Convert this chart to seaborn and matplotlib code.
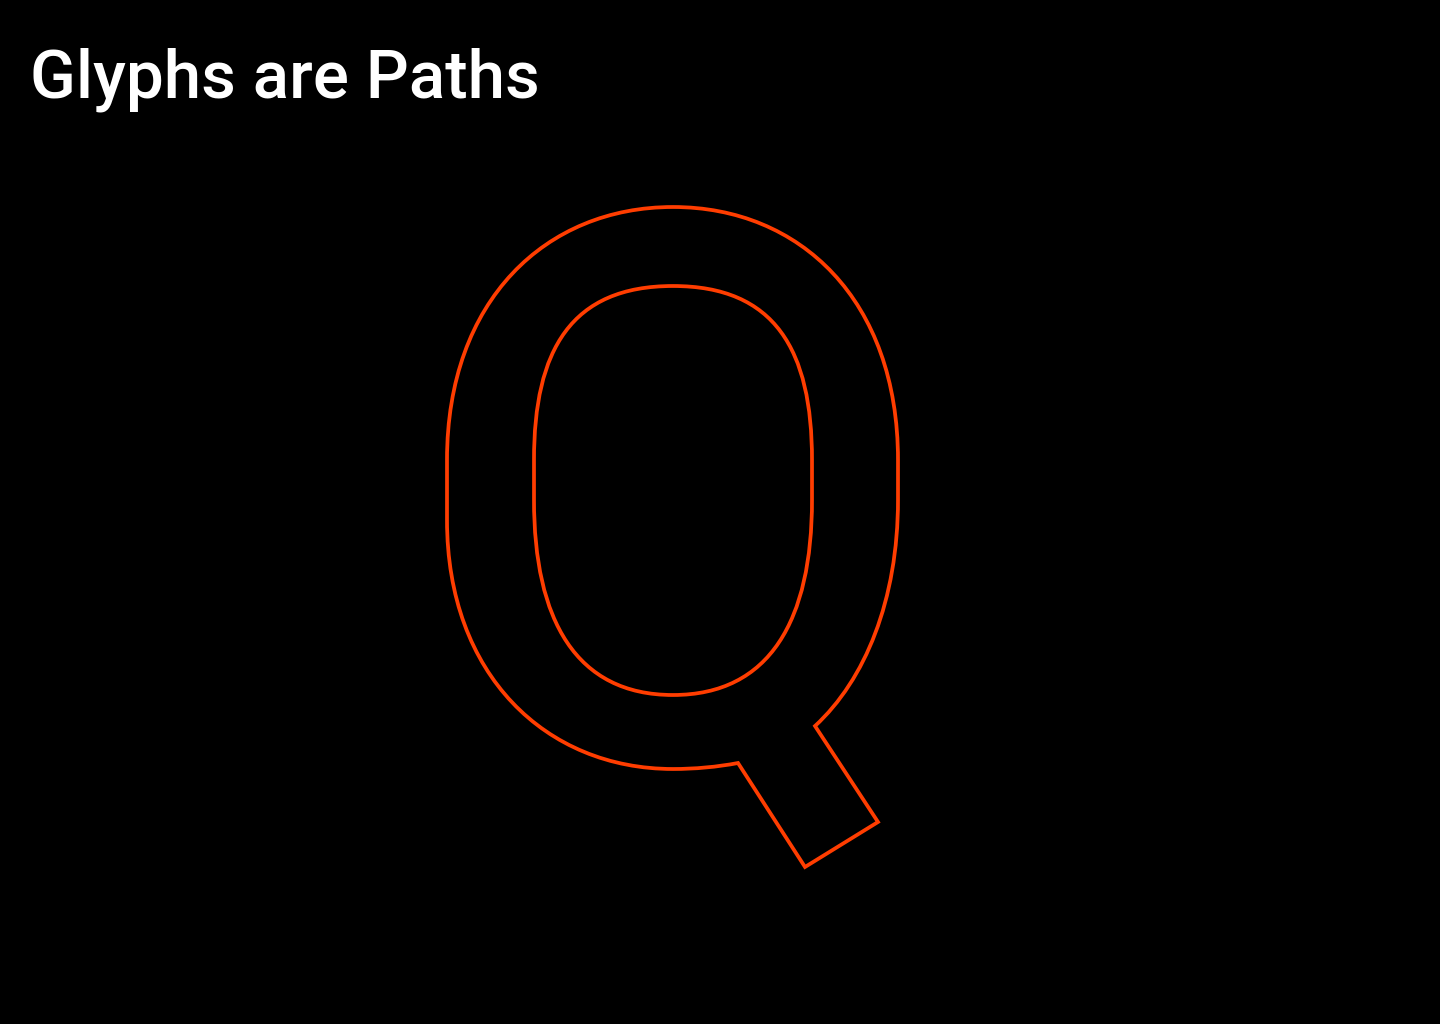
import matplotlib
matplotlib.use("Agg")
import seaborn as sns
from matplotlib import pyplot as plt
from matplotlib.path import Path
from matplotlib.patches import PathPatch

# glyph outline of "Q" (screen units, y down)
M, L, C, Z = Path.MOVETO, Path.LINETO, Path.CURVE4, Path.CLOSEPOLY

outer_pts = [
    (673, 207),
    (800, 207), (898, 300), (898, 460),
    (898, 500),
    (898, 600), (865, 680), (815, 726),
    (878, 822),
    (805, 867),
    (738, 763),
    (717, 767), (695, 769), (673, 769),
    (546, 769), (447, 675), (447, 520),
    (447, 460),
    (447, 300), (546, 207), (673, 207),
    (673, 207),
]
outer_codes = [M, C, C, C, L, C, C, C, L, L, L, C, C, C, C, C, C, L, C, C, C, Z]

inner_pts = [
    (673, 286),
    (571, 286), (534, 350), (534, 460),
    (534, 500),
    (534, 620), (576, 695), (673, 695),
    (770, 695), (812, 620), (812, 500),
    (812, 460),
    (812, 350), (775, 286), (673, 286),
    (673, 286),
]
inner_codes = [M, C, C, C, L, C, C, C, C, C, C, L, C, C, C, Z]

title = "Glyphs are Paths"
stroke = "#ff3d00"

sns.set_theme(style="dark", rc={"axes.facecolor": "black", "figure.facecolor": "black"})
plt.rcParams["font.family"] = ["Roboto", "DejaVu Sans"]

fig = plt.figure(figsize=(14.4, 10.24), dpi=100)
ax = fig.add_axes([0, 0, 1, 1])
ax.set_xlim(0, 1440)
ax.set_ylim(1024, 0)
ax.set_axis_off()

glyph = Path(outer_pts + inner_pts, outer_codes + inner_codes)
ax.add_patch(PathPatch(glyph, facecolor="none", edgecolor=stroke, lw=2.7, joinstyle="miter"))

fig.text(30 / 1440, 1 - 97 / 1024, title, color="white", fontsize=48.5,
         fontweight="medium", ha="left", va="baseline")

fig.savefig("out.png", dpi=100, facecolor="black")
